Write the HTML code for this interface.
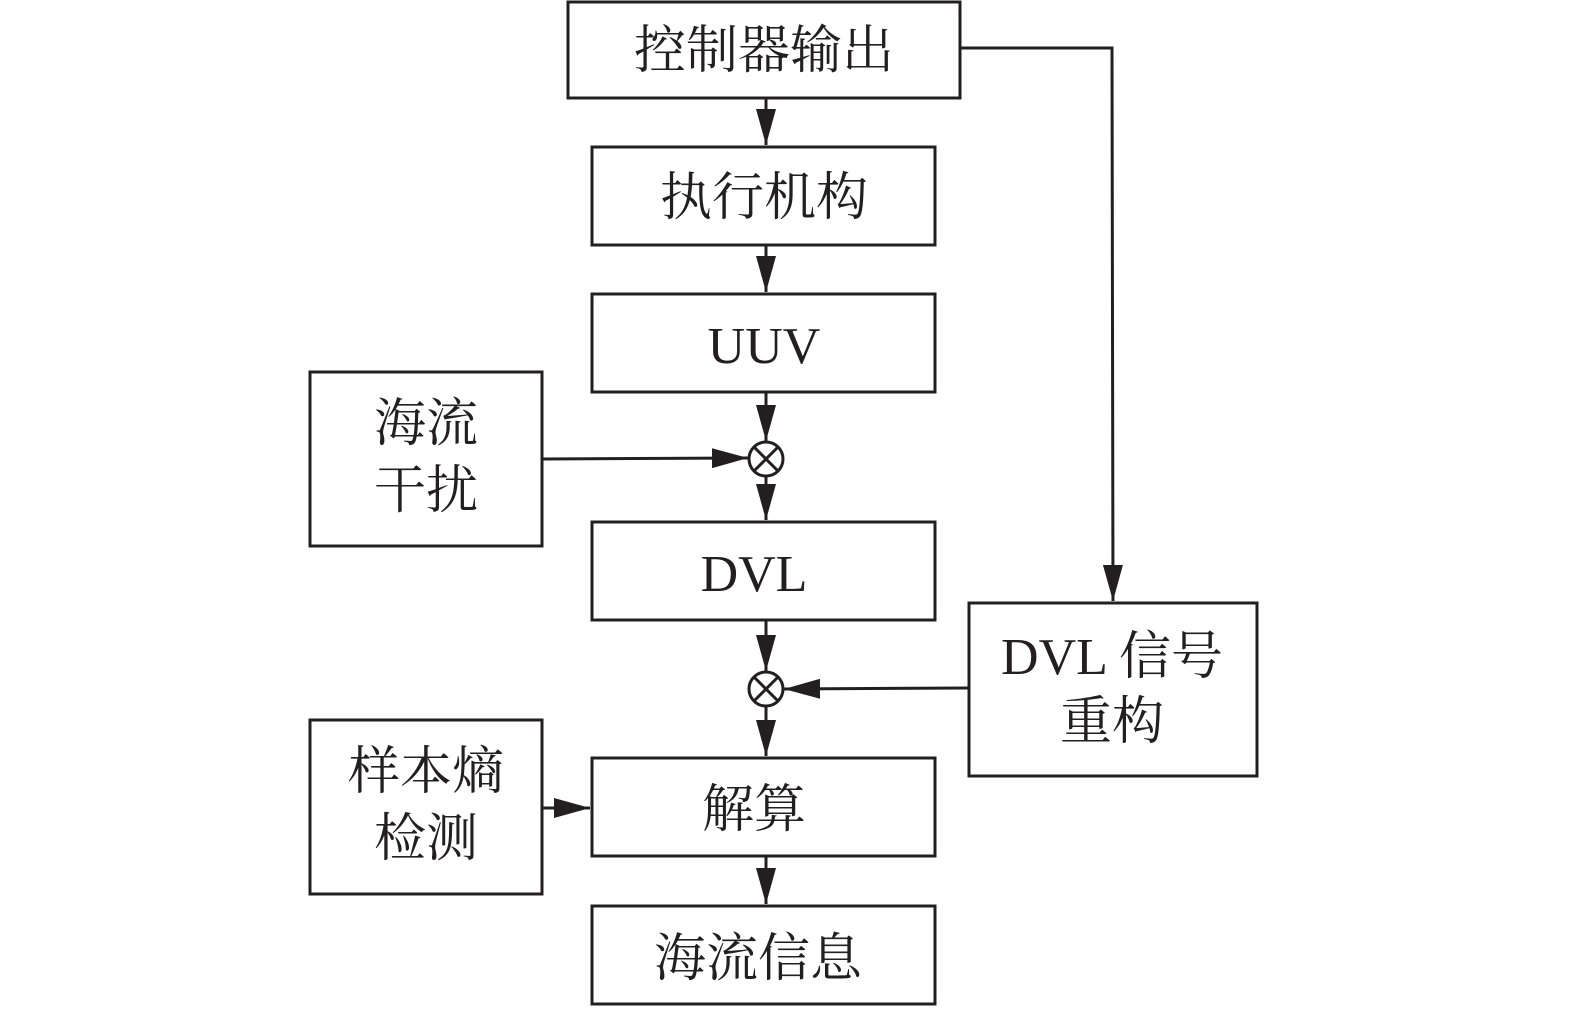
<!DOCTYPE html>
<html><head><meta charset="utf-8"><style>
html,body{margin:0;padding:0;background:#fff}
svg{display:block}
text{font-family:"Liberation Serif","Noto Serif CJK SC",serif;fill:#231f20;text-anchor:middle}
</style></head><body>
<svg width="1575" height="1010" viewBox="0 0 1575 1010" xmlns="http://www.w3.org/2000/svg">
<defs>
<marker id="b" markerWidth="36" markerHeight="20" refX="36" refY="10" orient="auto" markerUnits="userSpaceOnUse" viewBox="0 0 36 20"><path d="M0,0 L36,10 L0,20 z" fill="#231f20"/></marker></defs>
<g fill="none" stroke="#231f20" stroke-width="3">
<rect x="568" y="2" width="392" height="96"/>
<rect x="592" y="147" width="343" height="98"/>
<rect x="592" y="294" width="343" height="98"/>
<rect x="310" y="372" width="232" height="174"/>
<rect x="592" y="522" width="343" height="98"/>
<rect x="969" y="603" width="288" height="173"/>
<rect x="592" y="758" width="343" height="98"/>
<rect x="310" y="720" width="232" height="174"/>
<rect x="592" y="906" width="343" height="98"/>
<circle cx="766" cy="459" r="17"/>
<path d="M754,447 L778,471 M778,447 L754,471"/>
<circle cx="766" cy="689" r="17"/>
<path d="M754,677 L778,701 M778,677 L754,701"/>
<g marker-end="url(#b)">
<line x1="766" y1="98" x2="766" y2="145"/>
<line x1="766" y1="245" x2="766" y2="292"/>
<line x1="766" y1="392" x2="766" y2="441"/>
<line x1="542" y1="459" x2="748" y2="458"/>
<line x1="766" y1="476" x2="766" y2="520"/>
<line x1="766" y1="620" x2="766" y2="671"/>
<line x1="969" y1="688" x2="784" y2="689"/>
<line x1="766" y1="706" x2="766" y2="756"/>
<line x1="542" y1="808" x2="590" y2="808"/>
<line x1="766" y1="856" x2="766" y2="904"/>
<polyline points="960,48 1112,48 1113,601"/>
</g>
</g>
<g font-size="52">
<text x="764" y="68">控制器输出</text>
<text x="764" y="215">执行机构</text>
<text x="764" y="363">UUV</text>
<text x="426" y="441">海流</text>
<text x="426" y="508">干扰</text>
<text x="754" y="591">DVL</text>
<text x="1112" y="674">DVL 信号</text>
<text x="1112" y="739">重构</text>
<text x="754" y="827">解算</text>
<text x="426" y="789">样本熵</text>
<text x="426" y="856">检测</text>
<text x="758" y="976">海流信息</text>
</g>
</svg>
</body></html>
